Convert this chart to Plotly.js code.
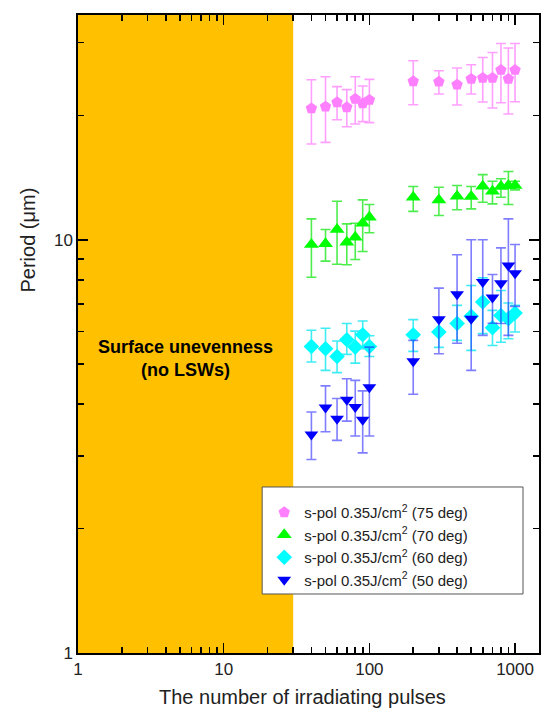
<!DOCTYPE html>
<html>
<head>
<meta charset="utf-8">
<script src="https://cdn.plot.ly/plotly-3.0.1.min.js"></script>
<style>html,body{margin:0;padding:0;background:#fff;}#chart{width:541px;height:714px;}</style>
</head>
<body>
<div id="chart"></div>
<script>
// Number of irradiating pulses
const pulses = [40, 50, 60, 70, 80, 90, 100, 200, 300, 400, 500, 600, 700, 800, 900, 1000];

// 75 deg (pink pentagons)
const p75 = [20.80, 21.00, 21.51, 20.92, 21.92, 21.39, 21.80, 24.18, 24.13, 23.74, 24.51, 24.65, 24.65, 25.76, 24.51, 25.76];
const p75hi = [24.40, 24.81, 23.48, 23.09, 24.81, 23.57, 24.45, 27.13, 25.66, 26.05, 26.52, 27.63, 28.41, 29.87, 29.12, 29.87];
const p75lo = [17.06, 17.21, 19.53, 18.78, 19.07, 19.32, 19.21, 21.23, 22.54, 21.20, 22.54, 21.56, 20.85, 21.47, 20.16, 21.59];

// 70 deg (green triangles)
const p70 = [9.74, 9.78, 10.59, 9.87, 10.15, 10.97, 11.34, 12.68, 12.49, 12.75, 12.73, 13.48, 13.10, 13.46, 13.53, 13.53];
const p70hi = [11.24, 10.59, 12.40, 10.93, 10.97, 12.49, 12.17, 13.46, 13.40, 13.53, 13.46, 14.38, 13.86, 14.05, 14.63, 13.86];
const p70lo = [8.12, 8.88, 8.73, 8.70, 8.96, 9.37, 10.40, 11.72, 11.45, 11.82, 11.88, 12.33, 12.22, 12.68, 12.17, 13.21];

// 60 deg (cyan diamonds)
const p60 = [5.52, 5.45, 5.22, 5.73, 5.50, 5.89, 5.52, 5.89, 5.98, 6.27, 6.53, 7.07, 6.13, 6.56, 6.44, 6.65];
const p60hi = [6.04, 6.11, 5.69, 6.27, 6.01, 6.36, 5.86, 6.41, 6.45, 6.94, 7.75, 8.09, 6.75, 7.54, 7.03, 6.94];
const p60lo = [5.06, 4.83, 4.77, 5.28, 5.03, 5.45, 5.22, 5.37, 5.49, 5.71, 5.40, 5.93, 5.55, 5.65, 5.76, 5.98];

// 50 deg (blue down-triangles)
const p50 = [3.38, 3.93, 3.69, 4.10, 3.94, 3.67, 4.40, 5.08, 6.42, 7.38, 6.44, 7.90, 7.25, 7.85, 8.67, 8.30];
const p50hi = [3.83, 4.43, 4.13, 4.61, 4.57, 4.31, 5.50, 5.71, 7.64, 9.20, 10.0, 10.0, 8.24, 9.56, 11.24, 9.74];
const p50lo = [2.94, 3.43, 3.27, 3.64, 3.35, 3.05, 3.35, 4.23, 5.30, 5.62, 4.83, 5.87, 6.28, 6.27, 5.87, 6.90];

const seriesNames = [
  's-pol 0.35J/cm<sup>2</sup> (75 deg)',
  's-pol 0.35J/cm<sup>2</sup> (70 deg)',
  's-pol 0.35J/cm<sup>2</sup> (60 deg)',
  's-pol 0.35J/cm<sup>2</sup> (50 deg)'
];

const xMajor = [1, 10, 100, 1000];
const xMajorText = ['1', '10', '100', '1000'];
const xMinor = [2,3,4,5,6,7,8,9,20,30,40,50,60,70,80,90,200,300,400,500,600,700,800,900];
const yMajor = [1, 10];
const yMajorText = ['1', '10'];
const yMinor = [2,3,4,5,6,7,8,9,20,30];

const FONT = 'Arial, "Liberation Sans", sans-serif';

function mk(name, y, hi, lo, symbol, color, errColor, size) {
  return {
    type: 'scatter', mode: 'markers', name: name,
    x: pulses, y: y,
    marker: {symbol: symbol, color: color, size: size, line: {width: 0}},
    error_y: {
      type: 'data', symmetric: false,
      array: hi.map((v, i) => v - y[i]),
      arrayminus: lo.map((v, i) => y[i] - v),
      color: errColor, thickness: 1.6, width: 5
    }
  };
}

const traces = [
  mk(seriesNames[0], p75, p75hi, p75lo, 'pentagon', '#ff80ff', 'rgba(255,128,255,0.75)', 12),
  mk(seriesNames[1], p70, p70hi, p70lo, 'triangle-up', '#00ff00', 'rgba(0,230,0,0.7)', 13),
  mk(seriesNames[2], p60, p60hi, p60lo, 'diamond', '#00ffff', 'rgba(0,230,240,0.75)', 12),
  mk(seriesNames[3], p50, p50hi, p50lo, 'triangle-down', '#0000ff', 'rgba(40,40,255,0.6)', 12),
  // invisible carrier so the free tick-only axes (left / bottom minor ticks) are drawn
  {type: 'scatter', mode: 'markers', x: [10], y: [10], xaxis: 'x2', yaxis: 'y2',
   marker: {opacity: 0, size: 1}, showlegend: false, hoverinfo: 'skip'}
];

const xr = [0, Math.log10(1460)];
const yr = [0, Math.log10(35)];

const minorStyle = {ticks: 'inside', ticklen: 6, tickwidth: 1.6, tickcolor: '#000', showgrid: false};

const layout = {
  width: 541, height: 714,
  margin: {l: 78, r: 2, t: 15, b: 61},
  paper_bgcolor: '#ffffff', plot_bgcolor: '#ffffff',
  font: {family: FONT, color: '#222', size: 17},
  showlegend: true,
  xaxis: {
    type: 'log', range: xr, autorange: false,
    tickmode: 'array', tickvals: xMajor, ticktext: xMajorText,
    ticks: 'inside', ticklen: 10, tickwidth: 1.6, tickcolor: '#000',
    minor: Object.assign({tickmode: 'array', tickvals: xMinor}, minorStyle),
    showline: true, linecolor: '#000', linewidth: 1.6, mirror: 'ticks',
    showgrid: false, zeroline: false,
    tickfont: {size: 17, color: '#222', family: FONT}
  },
  yaxis: {
    type: 'log', range: yr, autorange: false,
    tickmode: 'array', tickvals: yMajor, ticktext: yMajorText,
    ticks: 'inside', ticklen: 10, tickwidth: 1.6, tickcolor: '#000',
    minor: Object.assign({tickmode: 'array', tickvals: yMinor}, minorStyle),
    showline: true, linecolor: '#000', linewidth: 1.6, mirror: 'ticks',
    showgrid: false, zeroline: false,
    tickfont: {size: 17, color: '#222', family: FONT}
  },
  // free axes placed 6px inside the frame, ticks pointing outward toward the frame = inside ticks
  xaxis2: {
    type: 'log', range: xr, autorange: false, overlaying: 'x', anchor: 'free', position: 0.0094,
    side: 'bottom', automargin: false,
    tickmode: 'array', tickvals: xMinor, showticklabels: false,
    ticks: 'outside', ticklen: 6, tickwidth: 1.6, tickcolor: '#000',
    showline: false, showgrid: false, zeroline: false
  },
  yaxis2: {
    type: 'log', range: yr, autorange: false, overlaying: 'y', anchor: 'free', position: 0.013,
    side: 'left', automargin: false,
    tickmode: 'array', tickvals: yMinor, showticklabels: false,
    ticks: 'outside', ticklen: 6, tickwidth: 1.6, tickcolor: '#000',
    showline: false, showgrid: false, zeroline: false
  },
  shapes: [
    {type: 'rect', xref: 'x', yref: 'paper', x0: 1, x1: 30, y0: 0, y1: 1,
     fillcolor: '#ffc000', line: {width: 0}, layer: 'below'},
    // legend frame
    {type: 'rect', xref: 'paper', yref: 'paper', x0: 0.3995, x1: 0.9653, y0: 0.0925, y1: 0.2602,
     fillcolor: '#ffffff', line: {color: '#555', width: 1}, layer: 'above'}
  ],
  legend: {
    x: 0.404, y: 0.246, xanchor: 'left', yanchor: 'top',
    bgcolor: 'rgba(0,0,0,0)', borderwidth: 0,
    font: {size: 15, color: '#222', family: FONT},
    tracegroupgap: 0
  },
  annotations: [
    {text: 'Period (μm)', xref: 'paper', yref: 'paper', x: -0.1077, y: 0.647,
     xanchor: 'center', yanchor: 'middle', textangle: -90, showarrow: false,
     font: {size: 20, color: '#222', family: FONT}},
    {text: 'The number of irradiating pulses', xref: 'paper', yref: 'paper', x: 0.488, y: -0.069,
     xanchor: 'center', yanchor: 'middle', showarrow: false,
     font: {size: 20, color: '#222', family: FONT}},
    {text: '<b>Surface unevenness<br>(no LSWs)</b>', xref: 'paper', yref: 'paper', x: 0.2326, y: 0.462,
     xanchor: 'center', yanchor: 'middle', showarrow: false, align: 'center',
     font: {size: 18, color: '#000', family: FONT}}
  ]
};

Plotly.newPlot('chart', traces, layout, {displayModeBar: false, staticPlot: true});
</script>
</body>
</html>
